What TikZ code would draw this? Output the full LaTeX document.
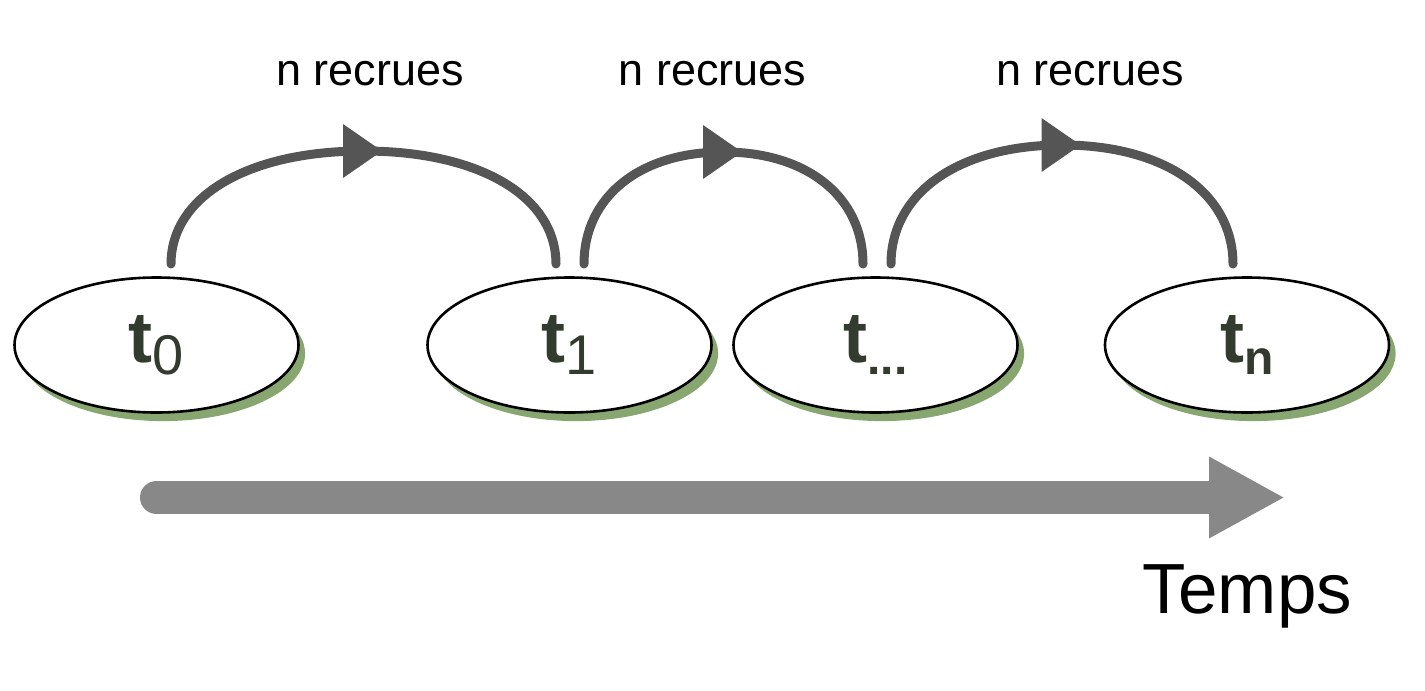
\documentclass[tikz,border=0pt]{standalone}
\usepackage{fontspec}
\setmainfont{Liberation Sans}
\usetikzlibrary{shapes.geometric,shadows,arrows.meta,decorations.markings,calc}
\definecolor{arcgray}{HTML}{555555}
\definecolor{timegray}{HTML}{888888}
\definecolor{shadowgreen}{RGB}{135,166,112}
\definecolor{labeldark}{HTML}{333B2F}
\newcommand{\subreg}[1]{\raisebox{-6pt}{\fontsize{28}{28}\selectfont\mdseries #1}}
\newcommand{\subbold}[1]{\raisebox{-6pt}{\fontsize{24}{24}\selectfont\bfseries #1}}
\begin{document}
\begin{tikzpicture}[x=0.5pt,y=-0.5pt,
  stage/.style={ellipse, draw=black, line width=1.3pt, fill=white,
    minimum width=142pt, minimum height=67.5pt, inner sep=0pt,
    text=labeldark, font=\fontsize{36}{36}\selectfont\bfseries,
    drop shadow={shadow xshift=3.3pt, shadow yshift=-4.3pt, fill=shadowgreen, opacity=1}},
  hop/.style={draw=arcgray, line width=4.5pt, line cap=round,
    postaction={decorate},
    decoration={markings, mark=at position 0.5 with
      {\fill[arcgray] (-10.25pt,13.5pt) -- (9.25pt,0pt) -- (-10.25pt,-13.5pt) -- cycle;}}},
  hoplabel/.style={anchor=base, font=\fontsize{22.5}{22.5}\selectfont, text=black, inner sep=0pt},
  timeline/.style={draw=timegray, line width=16.5pt, line cap=round,
    -{Triangle[length=38pt, width=38pt]}},
  timelabel/.style={anchor=base, font=\fontsize{35.5}{35.5}\selectfont, text=black, inner sep=0pt}
]
\useasboundingbox (0,0) rectangle (1425,691);

% stages
\node[stage] (t0) at (156.5,345) {t\subreg{0}};
\node[stage] (t1) at (569.5,345) {t\subreg{1}};
\node[stage] (tdots) at (875.5,345) {t\subbold{...}};
\node[stage] (tn) at (1247,345) {t\subbold{n}};

% arc end points
\coordinate (s1) at ($(t0.center)+(14.5,-81)$);
\coordinate (e1) at ($(t1.center)+(-13.5,-81)$);
\coordinate (s2) at ($(t1.center)+(14.5,-81)$);
\coordinate (e2) at ($(tdots.center)+(-12.5,-81)$);
\coordinate (s3) at ($(tdots.center)+(15.5,-81)$);
\coordinate (e3) at ($(tn.center)+(-14,-81)$);
\coordinate (m1) at (363.5,151);
\coordinate (m2) at (723.5,152);
\coordinate (m3) at (1062,145);

% arcs
\draw[hop] (s1) .. controls +(0,-67.8) and +(-115.5,0) .. (m1)
                .. controls +(115.5,0) and +(0,-67.8) .. (e1);
\draw[hop] (s2) .. controls +(0,-67.2) and +(-83.7,0) .. (m2)
                .. controls +(83.7,0) and +(0,-67.2) .. (e2);
\draw[hop] (s3) .. controls +(0,-71.4) and +(-102.6,0) .. (m3)
                .. controls +(102.6,0) and +(0,-71.4) .. (e3);

% labels
\node[hoplabel] (l1) at (370,85) {n recrues};
\node[hoplabel] (l2) at (712.5,85) {n recrues};
\node[hoplabel] (l3) at (1090,85) {n recrues};

% time axis
\coordinate (ts) at (156.5,497.5);
\coordinate (te) at (1285,497.5);
\draw[timeline] (ts) -- (te);
\node[timelabel] (temps) at (1247.5,613) {Temps};
\end{tikzpicture}
\end{document}
